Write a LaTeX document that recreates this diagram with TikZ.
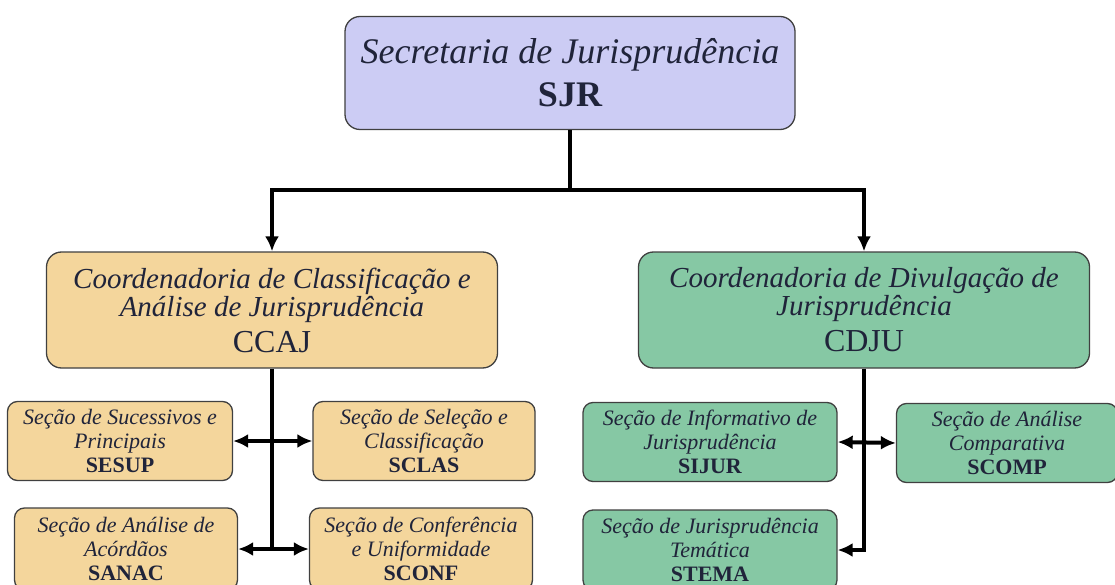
\documentclass[tikz,border=0pt]{standalone}
\usepackage{fontspec}
\setmainfont{Liberation Serif}
\usetikzlibrary{arrows.meta}
\definecolor{lilac}{RGB}{204,204,244}
\definecolor{sand}{RGB}{244,214,156}
\definecolor{mint}{RGB}{134,200,164}
\definecolor{ink}{RGB}{32,36,58}
\begin{document}
\begin{tikzpicture}[x=1pt,y=-1pt,
		box/.style={draw=black!75, line width=1.3pt, rounded corners=15pt, align=center, inner sep=0pt, text=ink},
		big/.style={box, minimum width=451pt, minimum height=116pt, font=\fontsize{29}{28}\selectfont\itshape},
		small/.style={box, rounded corners=10pt, minimum width=223pt, minimum height=79pt, font=\fontsize{22}{24}\selectfont\itshape},
		acro/.style={font=\upshape\bfseries},
		link/.style={line width=4pt},
		tip/.tip={Latex[length=15pt,width=14pt]}]
		\clip (0,0) rectangle (1115,585);
		\fill[white] (0,0) rectangle (1115,585);
		% top
		\node[box, fill=lilac, minimum width=450pt, minimum height=113pt, font=\fontsize{36}{43}\selectfont\itshape] (sjr) at (570,73) {Secretaria de Jurisprudência\\ \upshape\bfseries SJR};
		% coordinators
		\node[big, fill=sand] (ccaj) at (272,310) {Coordenadoria de Classificação e\\ Análise de Jurisprudência\\[8pt] \fontsize{32}{32}\selectfont\upshape CCAJ};
		\node[big, fill=mint] (cdju) at (864,310) {Coordenadoria de Divulgação de\\ Jurisprudência\\[8pt] \fontsize{32}{32}\selectfont\upshape CDJU};
		% sections
		\node[small, fill=sand, minimum width=225pt] (sesup) at (120,441) {Seção de Sucessivos e\\ Principais\\ \upshape\bfseries SESUP};
		\node[small, fill=sand, minimum width=222pt] (sclas) at (424,441) {Seção de Seleção e\\ Classificação\\ \upshape\bfseries SCLAS};
		\node[small, fill=sand, minimum height=82pt] (sanac) at (126,549) {Seção de Análise de\\ Acórdãos\\ \upshape\bfseries SANAC};
		\node[small, fill=sand, minimum height=82pt] (sconf) at (421,549) {Seção de Conferência\\ e Uniformidade\\ \upshape\bfseries SCONF};
		\node[small, fill=mint, minimum width=254pt] (sijur) at (710,442) {Seção de Informativo de\\ Jurisprudência\\ \upshape\bfseries SIJUR};
		\node[small, fill=mint, minimum width=221pt] (scomp) at (1007,443) {Seção de Análise\\ Comparativa\\ \upshape\bfseries SCOMP};
		\node[small, fill=mint, minimum width=254pt, minimum height=80pt] (stema) at (710,550) {Seção de Jurisprudência\\ Temática\\ \upshape\bfseries STEMA};
		% connectors
		\draw[link] (sjr.south) -- ++(0,60) coordinate (fork);
		\draw[link, -tip] (fork) -| (ccaj.north);
		\draw[link, -tip] (fork) -| (cdju.north);
		\draw[link] (ccaj.south) -- (ccaj.south |- sanac.east);
		\draw[link, tip-tip] (sesup.east) -- (sclas.west);
		\draw[link, tip-tip] (sanac.east) -- (sconf.west);
		\draw[link, -tip] (cdju.south) |- (stema.east);
		\draw[link, tip-tip] (sijur.east) -- (scomp.west);
	\end{tikzpicture}
\end{document}
